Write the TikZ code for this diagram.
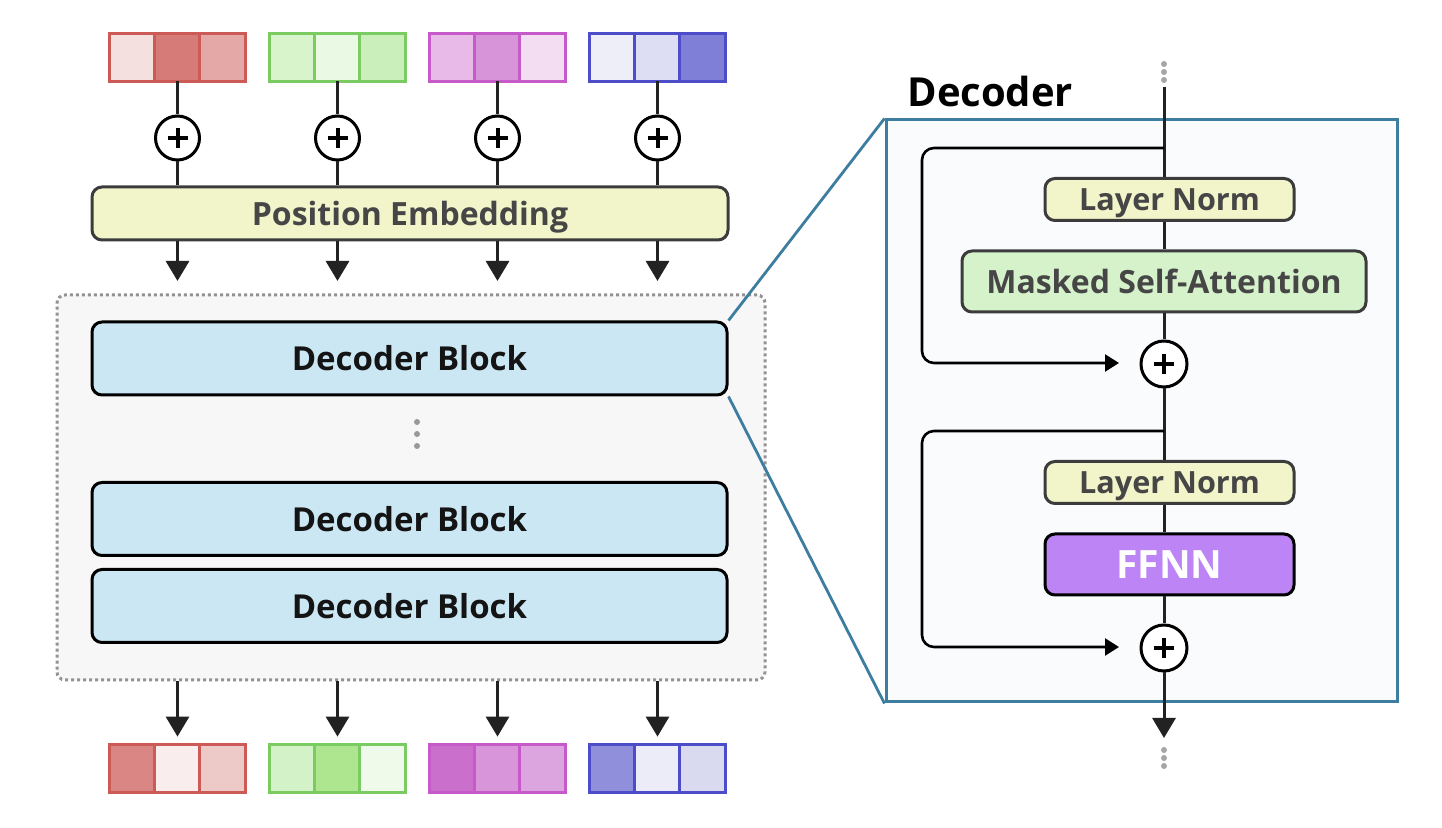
\documentclass[tikz,border=0pt]{standalone}
\usepackage{fontspec}
\setmainfont{Open Sans}
\usetikzlibrary{arrows.meta,calc}
\definecolor{bRed}{HTML}{CC5A56}\definecolor{bGreen}{HTML}{7ACB62}
\definecolor{bPurple}{HTML}{C75AC9}\definecolor{bBlue}{HTML}{4D4DC9}
\definecolor{peFill}{HTML}{F2F4C9}\definecolor{msaFill}{HTML}{D5F2CB}
\definecolor{dbFill}{HTML}{CBE7F4}\definecolor{ffFill}{HTML}{BC84F5}
\definecolor{panelLine}{HTML}{3D7DA0}\definecolor{panelFill}{HTML}{F9FBFD}
\definecolor{stackFill}{HTML}{F7F7F7}\definecolor{txtGray}{HTML}{464646}
\definecolor{lineDark}{HTML}{222222}\definecolor{boxLine}{HTML}{3C3C3C}
\newcommand\tokbox[6]{%
  \definecolor{cellA}{HTML}{#4}\definecolor{cellB}{HTML}{#5}\definecolor{cellC}{HTML}{#6}%
  \node[tok] (#1) at (#2) {};
  \draw[line width=1.5pt, draw=#3, fill=cellA] (#1.north west) rectangle ($(#1.south west)+(45,0)$);
  \draw[line width=1.5pt, draw=#3, fill=cellB] ($(#1.north west)+(45,0)$) rectangle ($(#1.south west)+(90,0)$);
  \draw[line width=1.5pt, draw=#3, fill=cellC] ($(#1.north west)+(90,0)$) rectangle (#1.south east);
}
\begin{document}
\begin{tikzpicture}[x=0.5pt,y=-0.5pt,
  tok/.style={rectangle, minimum width=67.5pt, minimum height=23.5pt, inner sep=0pt},
  plusnode/.style={circle, draw=black, fill=white, line width=1.5pt, minimum size=22pt, inner sep=0pt,
    path picture={\draw[line width=2pt,black] ([xshift=-5pt]path picture bounding box.center) -- ([xshift=5pt]path picture bounding box.center)
      ([yshift=-5pt]path picture bounding box.center) -- ([yshift=5pt]path picture bounding box.center);}},
  conn/.style={draw=lineDark, line width=1.5pt},
  arr/.style={conn, -{Triangle[width=11.5pt,length=10pt]}},
  skiparr/.style={draw=black, line width=1.3pt, rounded corners=6pt, -{Triangle[width=8.5pt,length=7pt]}},
  bigbox/.style={rectangle, rounded corners=5pt, line width=1.5pt, inner sep=0pt},
  lbl/.style={font=\bfseries\fontsize{16}{19}\selectfont, text=txtGray},
  dot/.style={circle, fill=#1, inner sep=0pt, minimum size=3pt},
]
\useasboundingbox (0,0) rectangle (1442,828);
\fill[white] (0,0) rectangle (1442,828);

% ---------- left: input tokens ----------
\tokbox{tA}{177.5,57.5}{bRed}{F5E0E0}{D77B78}{E4A9A7}
\tokbox{tB}{337.5,57.5}{bGreen}{D7F4CB}{EAF9E4}{CBEFBB}
\tokbox{tC}{497.5,57.5}{bPurple}{E7BAE7}{D894D9}{F2DDF2}
\tokbox{tD}{657.5,57.5}{bBlue}{EEEEF9}{DDDDF3}{7F7FD8}

\node[bigbox, draw=boxLine, fill=peFill, minimum width=318pt, minimum height=26.5pt, lbl, text depth=0pt] (pe) at (410,213.5) {Position Embedding};

\foreach \n/\x in {A/177.5,B/337.5,C/497.5,D/657.5}{
  \node[plusnode] (p\n) at (\x,138) {};
  \draw[conn] (t\n.south) -- (p\n.north);
  \draw[conn] (p\n.south) -- (pe.north -| p\n);
  \coordinate (in\n) at (\x,281);
  \draw[arr] (pe.south -| in\n) -- (in\n);
}

% ---------- stack ----------
\node[rectangle, rounded corners=4pt, fill=stackFill, draw=gray!85, line width=1.5pt,
  dash pattern=on 1.5pt off 1.5pt, minimum width=354pt, minimum height=192.5pt] (stack) at (411,487.5) {};
\tikzset{db/.style={bigbox, draw=black, fill=dbFill, minimum width=317.5pt, minimum height=36.5pt,
  font=\bfseries\fontsize{16.5}{19}\selectfont, text=black!92}}
\node[db] (b1) at (409.5,358.5) {Decoder Block};
\node[db] (b2) at (409.5,519) {Decoder Block};
\node[db] (b3) at (409.5,606) {Decoder Block};
\node[dot=gray!80] (v1) at (417,422) {};
\node[dot=gray!80] (v2) at (417,434) {};
\node[dot=gray!80] (v3) at (417,446) {};

% ---------- outputs ----------
\tokbox{oA}{177.5,768.5}{bRed}{D98684}{F9EDED}{EDC9C8}
\tokbox{oB}{337.5,768.5}{bGreen}{D4F2C7}{AEE58F}{F0FAEA}
\tokbox{oC}{497.5,768.5}{bPurple}{CB6FCC}{D895DA}{DCA5DF}
\tokbox{oD}{657.5,768.5}{bBlue}{8F8FDC}{ECECF8}{D9D9F0}
\foreach \n in {A,B,C,D}{
  \coordinate (out\n) at ($(o\n.north)+(0,-8)$);
  \draw[arr] (stack.south -| out\n) -- (out\n);
}

% ---------- right panel ----------
\node[rectangle, draw=panelLine, fill=panelFill, line width=1.5pt, minimum width=255.5pt, minimum height=291pt, inner sep=0pt] (panel) at (1141.5,411) {};
\draw[draw=panelLine, line width=1.4pt] (b1.north east) -- (panel.north west);
\draw[draw=panelLine, line width=1.4pt] (b1.south east) -- (panel.south west);
\node[anchor=west, inner sep=0pt, font=\bfseries\fontsize{20}{23}\selectfont] (title) at (907,92) {Decoder};

\node[dot=gray!70] (u1) at (1164,64) {};
\node[dot=gray!70] (u2) at (1164,72) {};
\node[dot=gray!70] (u3) at (1164,80) {};
\coordinate (top) at (1164,87);

\tikzset{ln/.style={bigbox, draw=boxLine, fill=peFill, minimum width=124.5pt, minimum height=21pt, lbl, text depth=0pt, font=\bfseries\fontsize{15.3}{18}\selectfont}}
\node[ln] (ln1) at (1169.5,199.5) {Layer Norm};
\node[bigbox, draw=boxLine, fill=msaFill, minimum width=202pt, minimum height=30.5pt, lbl] (msa) at (1164,281.5) {Masked Self-Attention};
\node[plusnode, minimum size=23pt] (s1) at (1164,364) {};
\node[ln] (ln2) at (1169.5,482.5) {Layer Norm};
\node[bigbox, draw=black, fill=ffFill, minimum width=124.5pt, minimum height=30.5pt, text=white,
  font=\bfseries\fontsize{19.5}{22}\selectfont] (ff) at (1169.5,564.5) {FFNN};
\node[plusnode, minimum size=23pt] (s2) at (1164,648) {};

\coordinate (br1) at (1164,148);
\coordinate (c1) at (922,363);
\coordinate (k1) at (1119,363);
\coordinate (br2) at (1164,431);
\coordinate (c2) at (922,647);
\coordinate (k2) at (1119,647);
\coordinate (end) at (1164,738);

\draw[conn] (top) -- (ln1.north -| top);
\draw[conn] (ln1.south -| top) -- (msa.north);
\draw[conn] (msa.south) -- (s1.north);
\draw[conn] (s1.south) -- (ln2.north -| top);
\draw[conn] (ln2.south -| top) -- (ff.north -| top);
\draw[conn] (ff.south -| top) -- (s2.north);
\draw[arr] (s2.south) -- (end);
\draw[skiparr] (br1) -| (c1) -- (k1);
\draw[skiparr] (br2) -| (c2) -- (k2);

\node[dot=gray!70] (w1) at (1164,750) {};
\node[dot=gray!70] (w2) at (1164,758) {};
\node[dot=gray!70] (w3) at (1164,766) {};
\end{tikzpicture}
\end{document}
